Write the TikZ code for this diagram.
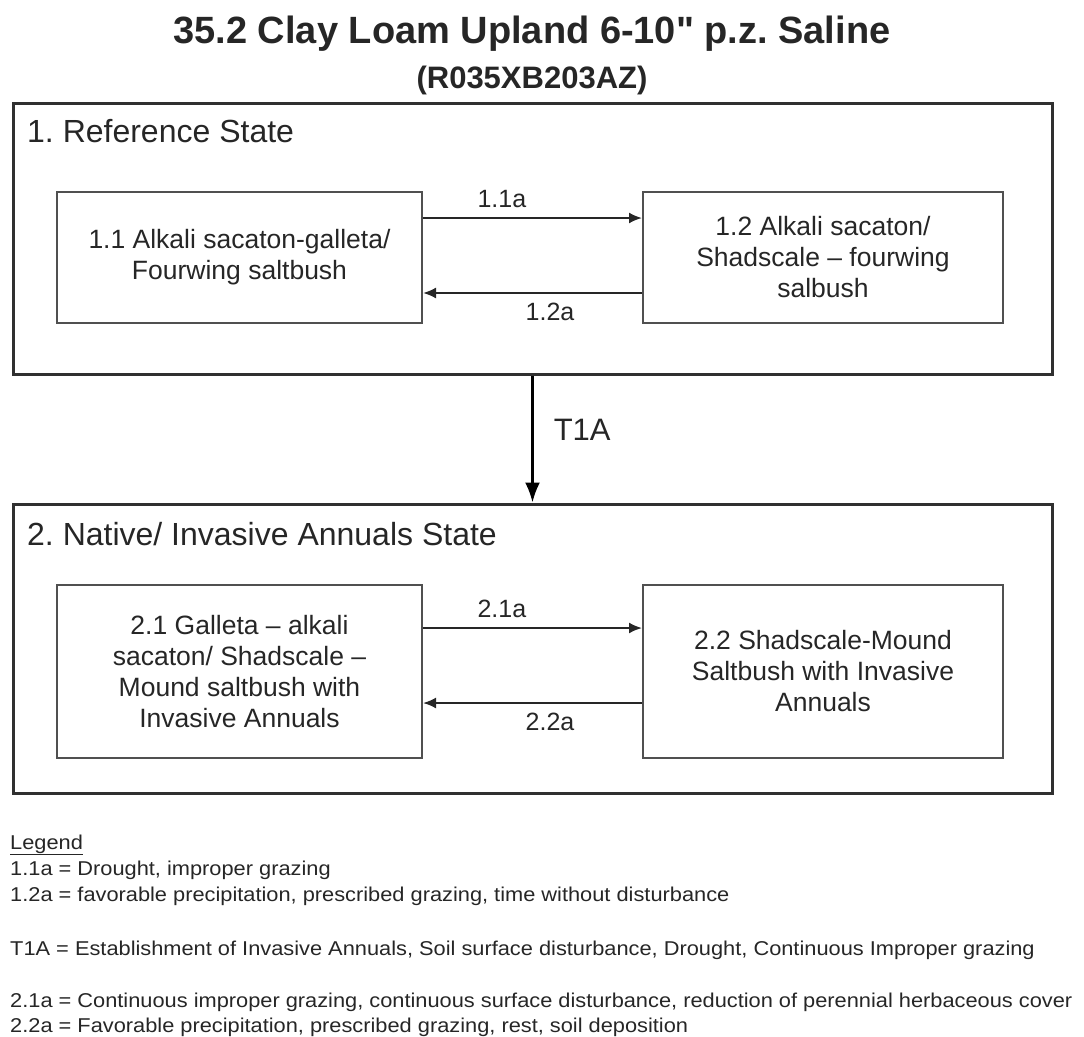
\documentclass[tikz,border=0pt]{standalone}
\usepackage{fontspec}
\setmainfont{Liberation Sans}
\newfontfamily\titlefont{Liberation Sans}
\newfontfamily\legendfont[FakeStretch=1.09]{Liberation Sans}
\usepackage{xcolor}
\usepackage{tikz}
\usetikzlibrary{
    arrows.meta,
    positioning,
    calc
}
\frenchspacing
\definecolor{stInk}{HTML}{262626}
\definecolor{stFrame}{HTML}{303030}
\definecolor{stEdge}{HTML}{505050}
\tikzset{
    stState/.style={
        draw=stFrame,
        line width=3pt,
        minimum width=1039pt,
        inner sep=0pt
    },
    stBox/.style={
        draw=stEdge,
        line width=2pt,
        align=center,
        text=stInk,
        inner sep=0pt,
        font=\fontsize{26.5}{31}\selectfont
    },
    stHead/.style={anchor=base west,inner sep=0pt,text=stInk,font=\fontsize{32}{38}\selectfont},
    stArrow/.style={-{Latex[length=13pt,width=11pt]},line width=2pt,draw=stInk},
    stTrans/.style={-{Latex[length=20pt,width=15pt]},line width=2.5pt,draw=black},
    stLabel/.style={text=stInk,inner sep=0pt,font=\fontsize{25}{30}\selectfont},
    stLegend/.style={anchor=base west,inner sep=0pt,text=stInk,font=\legendfont\fontsize{20}{24}\selectfont}
}

\begin{document}
\begin{tikzpicture}[x=1pt,y=-1pt]
        \useasboundingbox (0,0) rectangle (1084,1036);

        % title
        \node[anchor=base,text=stInk,font=\titlefont\bfseries\fontsize{38}{44}\selectfont] (title) at (532,43)
            {35.2 Clay Loam Upland 6-10" p.z. Saline};
        \node[anchor=base,text=stInk,font=\bfseries\fontsize{31}{36}\selectfont] (code) at (532,88)
            {(R035XB203AZ)};

        % states
        \node[stState,minimum height=271pt] (ref) at (532.5,238.5) {};
        \node[stState,minimum height=289pt] (nat) at (532.5,648.5) {};
        \node[stHead] (refhead) at (27,142) {1. Reference State};
        \node[stHead] (nathead) at (27,545) {2. Native/ Invasive Annuals State};

        % community phases
        \node[stBox,minimum width=365pt,minimum height=131pt] (p11) at (239.5,257.5)
            {1.1 Alkali sacaton-galleta/\\Fourwing saltbush};
        \node[stBox,minimum width=360pt,minimum height=131pt] (p12) at (823,257.5)
            {1.2 Alkali sacaton/\\Shadscale -- fourwing\\salbush};
        \node[stBox,minimum width=365pt,minimum height=173pt] (p21) at (239.5,671.5)
            {2.1 Galleta -- alkali\\sacaton/ Shadscale --\\Mound saltbush with\\Invasive Annuals};
        \node[stBox,minimum width=360pt,minimum height=173pt] (p22) at (823,671.5)
            {2.2 Shadscale-Mound\\Saltbush with Invasive\\Annuals};

        \draw[stArrow] ([yshift=39.5pt]p11.east) -- node[stLabel,pos=0.36,above=9pt] {1.1a} ([yshift=39.5pt]p12.west);
        \draw[stArrow] ([yshift=-35.5pt]p12.west) -- node[stLabel,pos=0.42,below=9pt] {1.2a} ([yshift=-35.5pt]p11.east);
        \draw[stArrow] ([yshift=43.5pt]p21.east) -- node[stLabel,pos=0.36,above=9pt] {2.1a} ([yshift=43.5pt]p22.west);
        \draw[stArrow] ([yshift=-31.5pt]p22.west) -- node[stLabel,pos=0.42,below=9pt] {2.2a} ([yshift=-31.5pt]p21.east);

        \draw[stTrans] (ref.south) -- node[stLabel,pos=0.43,right=20pt,font=\fontsize{31}{36}\selectfont] {T1A} (nat.north);

        % legend
        \node[stLegend] (leg) at (10,849) {\underline{Legend}};
        \node[stLegend] (leg11) at (10,875) {1.1a = Drought, improper grazing};
        \node[stLegend] (leg12) at (10,901) {1.2a = favorable precipitation, prescribed grazing, time without disturbance};
        \node[stLegend] (legT1) at (10,955) {T1A = Establishment of Invasive Annuals, Soil surface disturbance, Drought, Continuous Improper grazing};
        \node[stLegend] (leg21) at (10,1007) {2.1a = Continuous improper grazing, continuous surface disturbance, reduction of perennial herbaceous cover};
        \node[stLegend] (leg22) at (10,1032) {2.2a = Favorable precipitation, prescribed grazing, rest, soil deposition};
    \end{tikzpicture}
\end{document}
